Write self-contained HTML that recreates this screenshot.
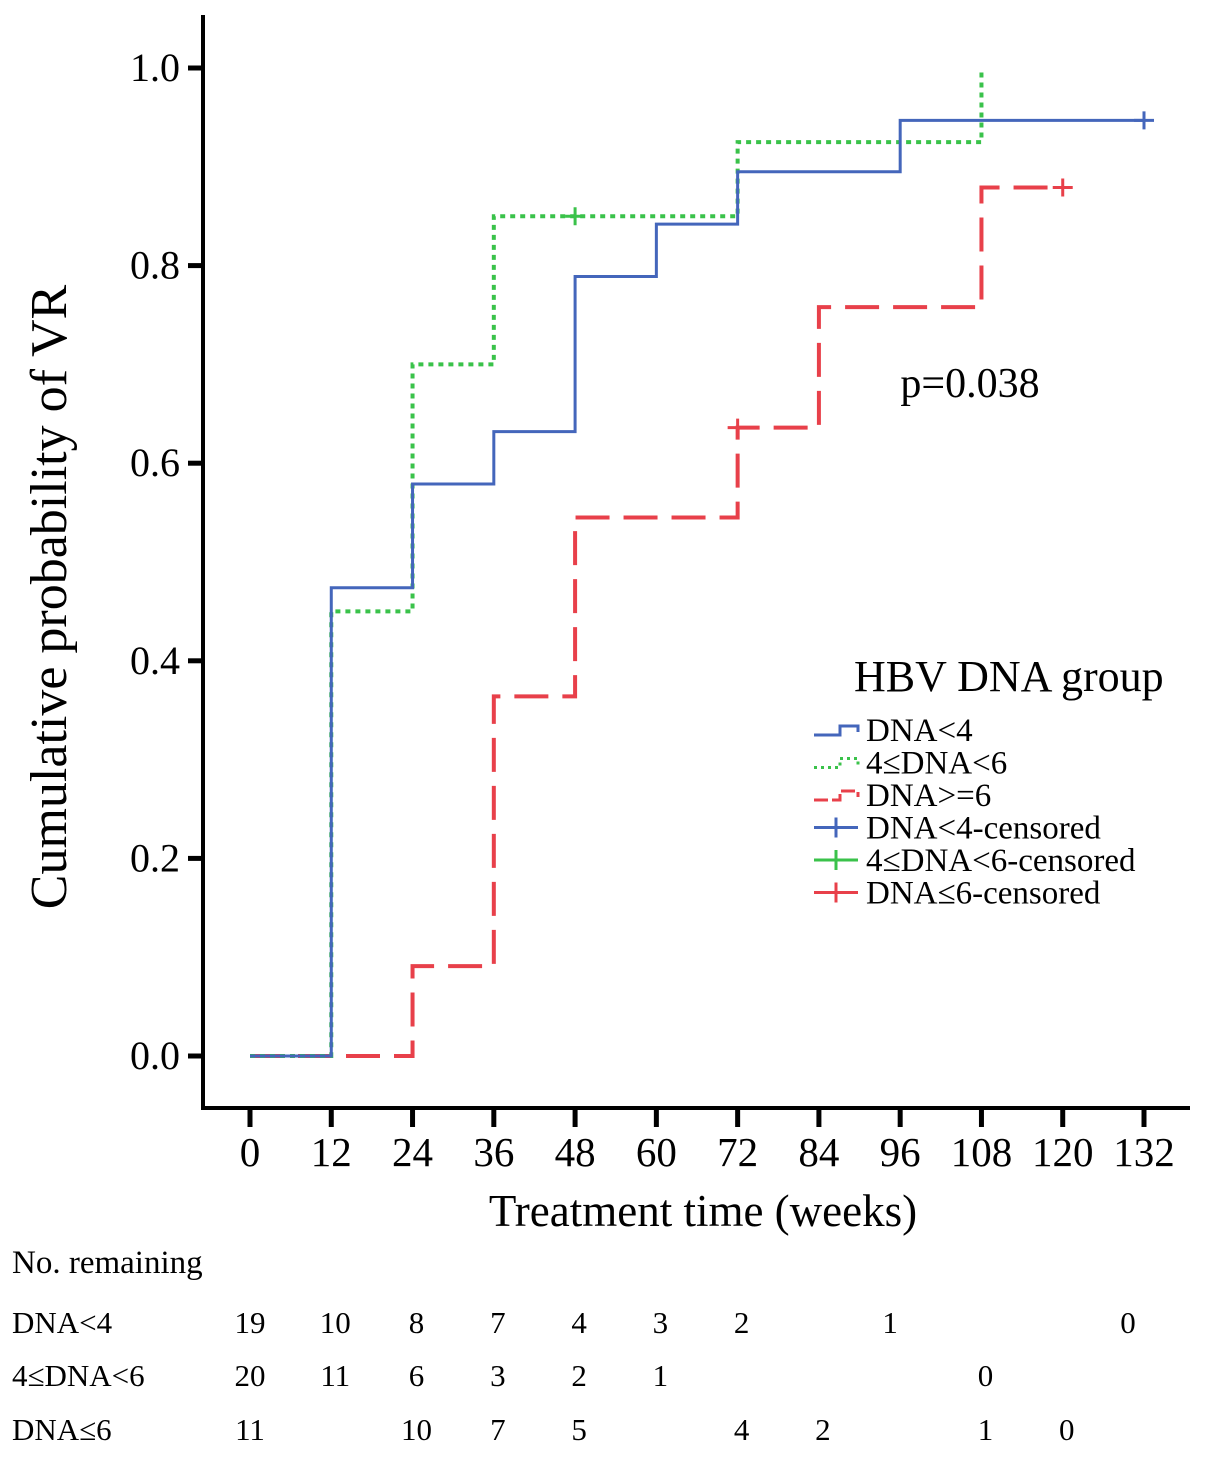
<!DOCTYPE html>
<html><head><meta charset="utf-8"><style>
body{margin:0;background:#fff;}
svg{display:block;font-family:"Liberation Serif","DejaVu Serif",serif;}
</style></head><body>
<svg id="c" width="1205" height="1459" viewBox="0 0 1205 1459"></svg>
<script>
const xTicks=[0,12,24,36,48,60,72,84,96,108,120,132];
const yTicks=[0.0,0.2,0.4,0.6,0.8,1.0];
const blueT=[0,12,24,36,48,60,72,96,132];
const blueP=[0,0.474,0.579,0.632,0.789,0.842,0.895,0.947,0.947];
const greenT=[0,12,24,36,72,108,108];
const greenP=[0,0.45,0.70,0.85,0.925,1.0,1.0];
const redT=[0,24,36,48,72,84,108,120];
const redP=[0,0.091,0.364,0.545,0.636,0.758,0.879,0.879];
const blueCens=[[132,0.947]];
const greenCens=[[48,0.85]];
const redCens=[[72,0.636],[120,0.879]];
const rowLabels=["DNA<4","4≤DNA<6","DNA≤6"];
const rowTimes=[[0,12,24,36,48,60,72,96,132],[0,12,24,36,48,60,108],[0,24,36,48,72,84,108,120]];
const rowVals=[[19,10,8,7,4,3,2,1,0],[20,11,6,3,2,1,0],[11,10,7,5,4,2,1,0]];
const legendNames=["DNA<4","4≤DNA<6","DNA>=6","DNA<4-censored","4≤DNA<6-censored","DNA≤6-censored"];

const X=t=>250+t*(894/132);
const Y=p=>1056-p*988;
const svg=document.getElementById('c');
const NS='http://www.w3.org/2000/svg';
function mk(tag,attrs,parent){const e=document.createElementNS(NS,tag);for(const k in attrs)e.setAttribute(k,attrs[k]);(parent||svg).appendChild(e);return e;}

let ax=mk('path',{d:`M203,15 V1108 H1190`,fill:'none',stroke:'#000','stroke-width':4});


xTicks.forEach(t=>{
  const l=mk('line',{x1:X(t),x2:X(t),y1:1108,y2:1127,stroke:'#000','stroke-width':5});
  
  
  const tx=mk('text',{x:X(t),y:1166,'text-anchor':'middle','font-size':41});
  tx.textContent=t;
  
  
});
yTicks.forEach(p=>{
  const l=mk('line',{x1:188,x2:203,y1:Y(p),y2:Y(p),stroke:'#000','stroke-width':5});
  
  
  const tx=mk('text',{x:180,y:Y(p)+13,'text-anchor':'end','font-size':40});
  tx.textContent=p.toFixed(1);
  
  
});
let yt=mk('text',{x:0,y:0,'font-size':52,'text-anchor':'middle',transform:'translate(66,597) rotate(-90)'});
yt.textContent='Cumulative probability of VR';


let xt=mk('text',{x:703,y:1226,'font-size':45,'text-anchor':'middle'});
xt.textContent='Treatment time (weeks)';



function step(T,P){let d=`M${X(T[0])},${Y(P[0])}`;for(let i=1;i<T.length;i++){d+=` H${X(T[i])} V${Y(P[i])}`;}return d;}
let r=mk('path',{d:step(redT,redP),fill:'none',stroke:'#e8404a','stroke-width':4,'stroke-dasharray':'34,14'});


let g=mk('path',{d:step(greenT,greenP),fill:'none',stroke:'#3ac24a','stroke-width':4,'stroke-dasharray':'5,5'});


let b=mk('path',{d:step(blueT,blueP),fill:'none',stroke:'#4466bb','stroke-width':3});


function cens(list,col,name){list.forEach(([t,p])=>{
  const c=mk('path',{d:`M${X(t)-10},${Y(p)} h20 M${X(t)},${Y(p)-9} v18`,stroke:col,'stroke-width':3});
  
  
});}
cens(blueCens,'#4466bb','censor-dna-lt-4');
cens(greenCens,'#3ac24a','censor-dna-4-6');
cens(redCens,'#e8404a','censor-dna-ge-6');

let pv=mk('text',{x:970,y:397,'font-size':42,'text-anchor':'middle'});
pv.textContent='p=0.038';



let lt=mk('text',{x:854,y:691,'font-size':44});
lt.textContent='HBV DNA group';


const lcol=['#4466bb','#3ac24a','#e8404a','#4466bb','#3ac24a','#e8404a'];
legendNames.forEach((n,i)=>{
  const y=730+i*32.5;
  let sym;
  if(i<3){
    const dash=i==1?'3,4':(i==2?'14,4':'none');
    sym=mk('path',{d:`M814,${y+5} h26 v-9 h18 v6`,fill:'none',stroke:lcol[i],'stroke-width':3,'stroke-dasharray':dash});
  }else{
    sym=mk('path',{d:`M814,${y} h44 M836,${y-10} v20`,stroke:lcol[i],'stroke-width':3});
  }
  
  
  const tx=mk('text',{x:866,y:y+11,'font-size':33});
  tx.textContent=n;
  
  
});

let nr=mk('text',{x:12,y:1273,'font-size':33});
nr.textContent='No. remaining';


const rowY=[1333,1386,1440];
rowLabels.forEach((lab,i)=>{
  const tx=mk('text',{x:12,y:rowY[i],'font-size':31});
  tx.textContent=lab;
  
  
  rowTimes[i].forEach((t,j)=>{
    const v=mk('text',{x:X(t)+(t==132?-16:(t==96?-10:(t==0?0:4))),y:rowY[i],'font-size':31,'text-anchor':'middle'});
    v.textContent=rowVals[i][j];
    
    
  });
});
</script>
</body></html>
